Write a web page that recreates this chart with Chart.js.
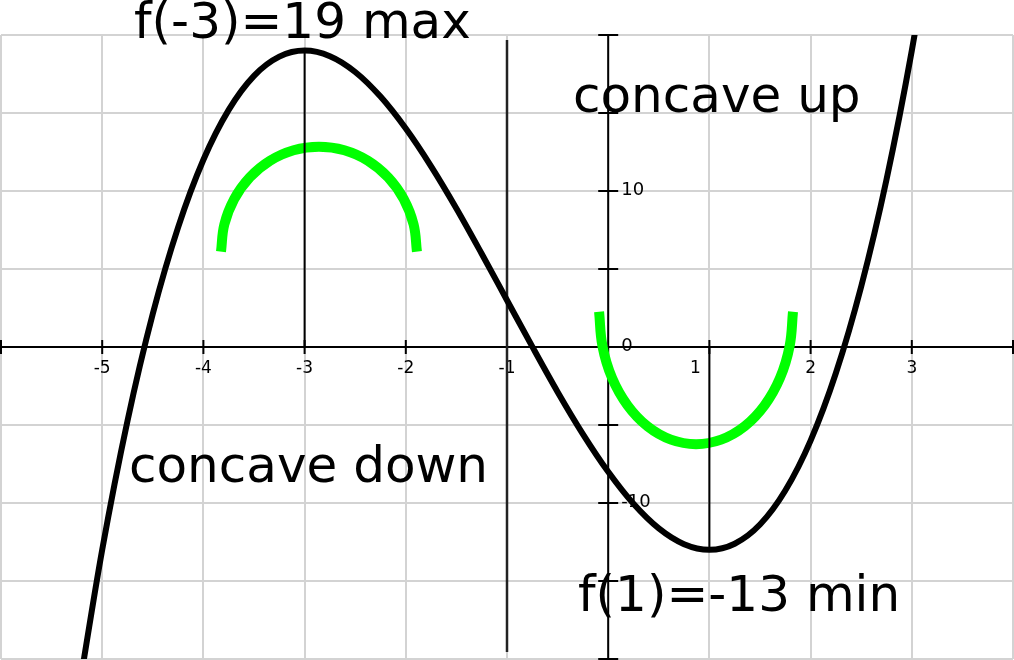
<!DOCTYPE html>
<html>
<head>
<meta charset="utf-8">
<script src="https://cdn.jsdelivr.net/npm/chart.js@4/dist/chart.umd.min.js"></script>
<style>
  html, body { margin: 0; padding: 0; background: #ffffff; }
  #wrap { position: relative; width: 1014px; height: 660px; }
</style>
</head>
<body>
<div id="wrap"><canvas id="c" width="1014" height="660"></canvas></div>
<script>
// ---- data ----
const xRange = [-6, 4];
const yRange = [-20, 20];

// f(x) curve
const curveX = [-5.25, -5, -4.75, -4.5, -4.25, -4, -3.75, -3.5, -3.25, -3, -2.75, -2.5, -2.25, -2, -1.75, -1.5, -1.25, -1, -0.75, -0.5, -0.25, 0, 0.25, 0.5, 0.75, 1, 1.25, 1.5, 1.75, 2, 2.25, 2.5, 2.75, 3, 3.25];
const curveY = [-22.77, -13, -4.73, 2.13, 7.67, 12, 15.2, 17.38, 18.61, 19, 18.64, 17.63, 16.05, 14, 11.58, 8.88, 5.98, 3, 0.02, -2.88, -5.58, -8, -10.05, -11.63, -12.64, -13, -12.61, -11.38, -9.2, -6, -1.67, 3.88, 10.73, 19, 28.77];

// green "concave down" arc
const downArcX = [-3.826, -3.793, -3.696, -3.542, -3.342, -3.109, -2.858, -2.607, -2.374, -2.174, -2.020, -1.923, -1.890];
const downArcY = [6.119, 7.859, 9.480, 10.872, 11.940, 12.612, 12.841, 12.612, 11.940, 10.872, 9.480, 7.859, 6.119];

// green "concave up" arc
const upArcX = [-0.090, -0.057, 0.038, 0.191, 0.389, 0.620, 0.868, 1.116, 1.347, 1.545, 1.698, 1.793, 1.826];
const upArcY = [2.266, 0.068, -1.981, -3.740, -5.090, -5.939, -6.228, -5.939, -5.090, -3.740, -1.981, 0.068, 2.266];

// vertical marker lines
const maxLineX = [-3, -3];   const maxLineY = [0, 19];
const inflLineX = [-1, -1];  const inflLineY = [-19.55, 19.68];
const minLineX = [1, 1];     const minLineY = [-13, 0];

// tick labels
const xTickValues = [-5, -4, -3, -2, -1, 1, 2, 3];
const xTickLabels = ['-5', '-4', '-3', '-2', '-1', '1', '2', '3'];
const yTickValues = [10, 0, -10];
const yTickLabels = ['10', '0', '-10'];

// annotation texts
const noteTexts = ['f(-3)=19 max', 'concave up', 'concave down', 'f(1)=-13 min'];

// ---- build ----
const pts = (xs, ys) => xs.map((x, i) => ({ x: x, y: ys[i] }));
const FONT = '"DejaVu Sans", "Liberation Sans", sans-serif';

const axesPlugin = {
  id: 'axesPlugin',
  beforeDatasetsDraw(chart) {
    const ctx = chart.ctx;
    const xs = chart.scales.x, ys = chart.scales.y;
    const x0 = xs.getPixelForValue(0);
    const y0 = ys.getPixelForValue(0);
    ctx.save();
    ctx.strokeStyle = '#000';
    ctx.lineWidth = 2;
    // x axis
    ctx.beginPath();
    ctx.moveTo(0, y0); ctx.lineTo(chart.width, y0);
    xs.ticks.forEach(t => {
      const px = xs.getPixelForValue(t.value);
      ctx.moveTo(px, y0 - 7); ctx.lineTo(px, y0 + 7);
    });
    // y axis
    ctx.moveTo(x0, ys.getPixelForValue(yRange[1])); ctx.lineTo(x0, ys.getPixelForValue(yRange[0]));
    ys.ticks.forEach(t => {
      const py = ys.getPixelForValue(t.value);
      ctx.moveTo(x0 - 10, py); ctx.lineTo(x0 + 10, py);
    });
    ctx.stroke();
    // labels
    ctx.fillStyle = '#000';
    ctx.font = '17px ' + FONT;
    ctx.textAlign = 'center';
    ctx.textBaseline = 'alphabetic';
    xTickValues.forEach((v, i) => {
      let px = xs.getPixelForValue(v);
      if (v === 1) px -= 14;
      ctx.fillText(xTickLabels[i], px, y0 + 26);
    });
    ctx.font = '18px ' + FONT;
    ctx.textAlign = 'left';
    ctx.textBaseline = 'middle';
    yTickValues.forEach((v, i) => {
      const py = ys.getPixelForValue(v);
      ctx.fillText(yTickLabels[i], x0 + 13, py - 1);
    });
    ctx.restore();
  },
  afterDraw(chart) {
    const ctx = chart.ctx;
    ctx.save();
    ctx.fillStyle = '#000';
    ctx.font = '50px ' + FONT;
    ctx.textAlign = 'left';
    ctx.textBaseline = 'alphabetic';
    ctx.fillText(noteTexts[0], 134, 38);
    ctx.fillText(noteTexts[1], 573, 112);
    ctx.fillText(noteTexts[2], 129, 482);
    ctx.fillText(noteTexts[3], 578, 611);
    ctx.restore();
  }
};

const lineDs = (data, color, width, order, extra) => Object.assign({
  data: data, borderColor: color, borderWidth: width, pointRadius: 0,
  fill: false, order: order, tension: 0, borderCapStyle: 'butt'
}, extra || {});

new Chart(document.getElementById('c'), {
  type: 'line',
  data: {
    datasets: [
      lineDs(pts(curveX, curveY), '#000000', 6, 0, { cubicInterpolationMode: 'monotone' }),
      lineDs(pts(maxLineX, maxLineY), '#000000', 2, 1),
      lineDs(pts(inflLineX, inflLineY), '#222222', 2.5, 1),
      lineDs(pts(minLineX, minLineY), '#000000', 2, 1),
      lineDs(pts(downArcX, downArcY), '#00ff00', 10, 2, { tension: 0.4 }),
      lineDs(pts(upArcX, upArcY), '#00ff00', 10, 2, { tension: 0.4 })
    ]
  },
  options: {
    responsive: false,
    animation: false,
    events: [],
    layout: { padding: { top: 35, left: 1, right: 1, bottom: 1 } },
    plugins: { legend: { display: false }, tooltip: { enabled: false }, title: { display: false } },
    scales: {
      x: {
        type: 'linear', min: xRange[0], max: xRange[1],
        ticks: { display: false, stepSize: 1 },
        grid: { color: '#d3d3d3', lineWidth: 2, drawTicks: false },
        border: { display: false }
      },
      y: {
        type: 'linear', min: yRange[0], max: yRange[1],
        ticks: { display: false, stepSize: 5 },
        grid: { color: '#d3d3d3', lineWidth: 2, drawTicks: false },
        border: { display: false }
      }
    }
  },
  plugins: [axesPlugin]
});
</script>
</body>
</html>
